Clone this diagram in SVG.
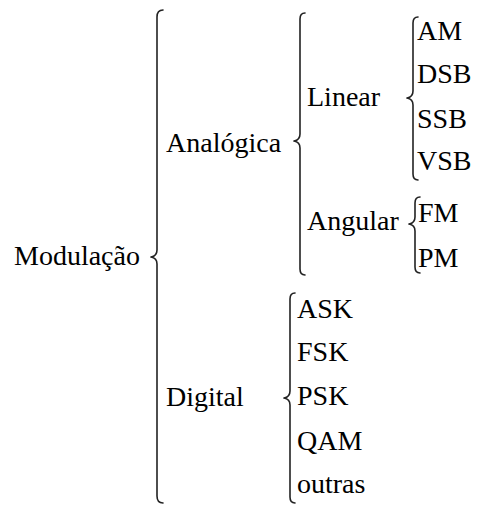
<svg xmlns="http://www.w3.org/2000/svg" width="478" height="505" viewBox="0 0 478 505">
<style>
.brace{fill:none;stroke:#222;stroke-width:1.6;stroke-linecap:round;stroke-linejoin:round}
</style>
<rect width="478" height="505" fill="#fff"/>
<g id="connectors">
<path class="brace" d="M163,10 Q157,10 157,17 L157,250 Q157,256 151,257 Q157,258 157,264 L157,496 Q157,503 163,503"/>
<path class="brace" d="M305,13 Q300,13 300,19 L300,134 Q300,140 294,141 Q300,142 300,148 L300,269 Q300,275 305,275"/>
<path class="brace" d="M418,17 Q413,17 413,23 L413,91 Q413,97 407,98 Q413,99 413,105 L413,174 Q413,180 418,180"/>
<path class="brace" d="M420,197 Q415,197 415,203 L415,217 Q415,223 409,224 Q415,225 415,231 L415,267 Q415,273 420,273"/>
<path class="brace" d="M295,293 Q290,293 290,299 L290,391 Q290,397 284,398 Q290,399 290,405 L290,497 Q290,503 295,503"/>
</g>
<g font-family="Liberation Serif" font-size="28" fill="#000">
<g id="modulacao"><text x="14" y="265">Modulação</text></g>
<g id="analogica"><text x="166" y="152">Analógica</text></g>
<g id="linear"><text x="307" y="106">Linear</text></g>
<g id="am"><text x="417" y="40">AM</text></g>
<g id="dsb"><text x="417" y="83">DSB</text></g>
<g id="ssb"><text x="417" y="128">SSB</text></g>
<g id="vsb"><text x="417" y="170">VSB</text></g>
<g id="angular"><text x="307" y="230">Angular</text></g>
<g id="fm"><text x="418" y="222">FM</text></g>
<g id="pm"><text x="418" y="267">PM</text></g>
<g id="digital"><text x="166" y="406">Digital</text></g>
<g id="ask"><text x="297" y="318">ASK</text></g>
<g id="fsk"><text x="297" y="361">FSK</text></g>
<g id="psk"><text x="297" y="405">PSK</text></g>
<g id="qam"><text x="297" y="450">QAM</text></g>
<g id="outras"><text x="297" y="493">outras</text></g>
</g>
</svg>
